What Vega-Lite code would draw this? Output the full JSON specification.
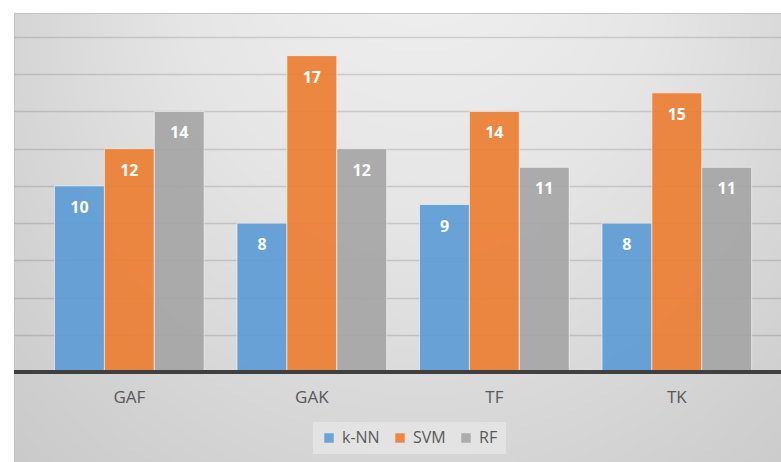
{
  "$schema": "https://vega.github.io/schema/vega-lite/v6.json",
  "width": 767,
  "height": 449,
  "autosize": {"type": "none"},
  "padding": {"left": 14, "top": 13, "right": 0, "bottom": 0},
  "background": "white",
  "view": {
    "stroke": "#c4c4c4",
    "strokeWidth": 1,
    "fill": {
      "gradient": "radial",
      "x1": 0.53, "y1": 0, "r1": 0,
      "x2": 0.53, "y2": 0.35, "r2": 0.7,
      "stops": [
        {"offset": 0, "color": "#f3f3f3"},
        {"offset": 0.45, "color": "#e5e5e5"},
        {"offset": 0.85, "color": "#d0d0d0"},
        {"offset": 1, "color": "#c9c9c9"}
      ]
    }
  },
  "datasets": {
    "scores": [
      {"method": "GAF", "model": "k-NN", "score": 10},
      {"method": "GAF", "model": "SVM", "score": 12},
      {"method": "GAF", "model": "RF", "score": 14},
      {"method": "GAK", "model": "k-NN", "score": 8},
      {"method": "GAK", "model": "SVM", "score": 17},
      {"method": "GAK", "model": "RF", "score": 12},
      {"method": "TF", "model": "k-NN", "score": 9},
      {"method": "TF", "model": "SVM", "score": 14},
      {"method": "TF", "model": "RF", "score": 11},
      {"method": "TK", "model": "k-NN", "score": 8},
      {"method": "TK", "model": "SVM", "score": 15},
      {"method": "TK", "model": "RF", "score": 11}
    ]
  },
  "layer": [
    {
      "data": {"name": "scores"},
      "mark": {"type": "bar", "opacity": 0.9, "stroke": "#ffffff", "strokeOpacity": 0.6, "strokeWidth": 1},
      "encoding": {
        "x": {
          "field": "method",
          "type": "nominal",
          "scale": {"domain": ["GAF", "GAK", "TF", "TK"], "paddingInner": 0.18, "paddingOuter": 0.1914, "align": 0.58},
          "axis": {
            "title": null,
            "orient": "bottom",
            "domain": false,
            "ticks": false,
            "tickSize": 0,
            "grid": false,
            "labelAngle": 0,
            "labelPadding": 0,
            "offset": -65,
            "labelBaseline": "middle",
            "labelFont": "Open Sans",
            "labelFontSize": 17,
            "labelColor": "#595959"
          }
        },
        "xOffset": {
          "field": "model",
          "type": "nominal",
          "scale": {"domain": ["k-NN", "SVM", "RF"], "paddingInner": 0, "paddingOuter": 0}
        },
        "y": {
          "field": "score",
          "type": "quantitative",
          "scale": {"domain": [-4.83, 19.29], "nice": false, "zero": false},
          "axis": {
            "values": [2, 4, 6, 8, 10, 12, 14, 16, 18],
            "grid": true,
            "gridColor": "#000000",
            "gridOpacity": 0.13,
            "gridWidth": 1.3,
            "labels": false,
            "ticks": false,
            "domain": false,
            "title": null
          }
        },
        "color": {
          "field": "model",
          "type": "nominal",
          "scale": {"domain": ["k-NN", "SVM", "RF"], "range": ["#5b9bd5", "#ed7d31", "#a5a5a5"]},
          "legend": {
            "orient": "none",
            "legendX": 299,
            "legendY": 409,
            "direction": "horizontal",
            "title": null,
            "padding": 8,
            "fillColor": "#e3e3e3",
            "symbolType": "square",
            "symbolSize": 90,
            "symbolStrokeWidth": 0,
            "symbolOpacity": 0.9,
            "labelFont": "Open Sans",
            "labelFontSize": 16,
            "labelColor": "#595959",
            "labelOffset": 5,
            "columnPadding": 12
          }
        }
      }
    },
    {
      "data": {"name": "scores"},
      "mark": {"type": "rule", "stroke": "#404040", "strokeWidth": 3},
      "encoding": {
        "y": {"datum": 0, "type": "quantitative"}
      }
    },
    {
      "data": {"name": "scores"},
      "mark": {"type": "text", "dy": 22, "baseline": "middle", "align": "center", "font": "Open Sans", "fontWeight": "bold", "fontSize": 16, "fill": "#ffffff"},
      "encoding": {
        "x": {"field": "method", "type": "nominal"},
        "xOffset": {"field": "model", "type": "nominal"},
        "y": {"field": "score", "type": "quantitative"},
        "text": {"field": "score", "type": "quantitative"}
      }
    }
  ]
}
